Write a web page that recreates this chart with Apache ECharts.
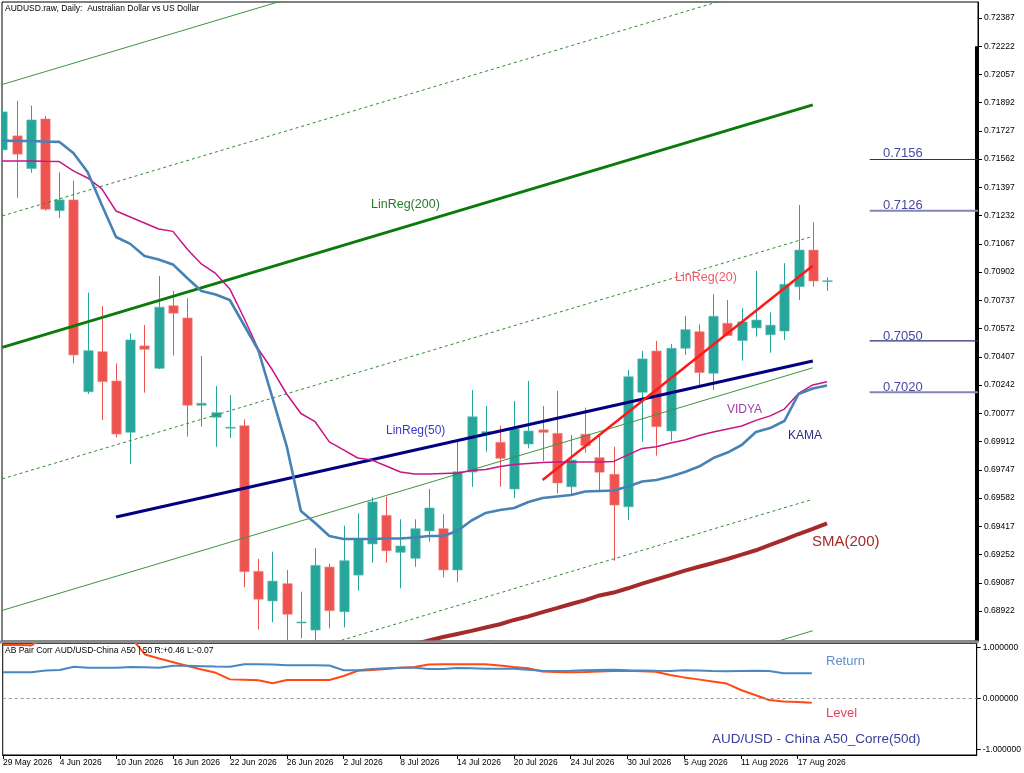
<!DOCTYPE html>
<html><head><meta charset="utf-8">
<script src="https://cdn.jsdelivr.net/npm/echarts@6/dist/echarts.min.js"></script>
<style>html,body{margin:0;padding:0;background:#fff}#c{width:1024px;height:773px}</style>
</head><body><div id="c"></div>
<script>
const dates = ['29 May 2026','1 Jun 2026','2 Jun 2026','3 Jun 2026','4 Jun 2026','5 Jun 2026','8 Jun 2026','9 Jun 2026','10 Jun 2026','11 Jun 2026','12 Jun 2026','15 Jun 2026','16 Jun 2026','17 Jun 2026','18 Jun 2026','19 Jun 2026','22 Jun 2026','23 Jun 2026','24 Jun 2026','25 Jun 2026','26 Jun 2026','29 Jun 2026','30 Jun 2026','1 Jul 2026','2 Jul 2026','3 Jul 2026','6 Jul 2026','7 Jul 2026','8 Jul 2026','9 Jul 2026','10 Jul 2026','13 Jul 2026','14 Jul 2026','15 Jul 2026','16 Jul 2026','17 Jul 2026','20 Jul 2026','21 Jul 2026','22 Jul 2026','23 Jul 2026','24 Jul 2026','27 Jul 2026','28 Jul 2026','29 Jul 2026','30 Jul 2026','31 Jul 2026','3 Aug 2026','4 Aug 2026','5 Aug 2026','6 Aug 2026','7 Aug 2026','10 Aug 2026','11 Aug 2026','12 Aug 2026','13 Aug 2026','14 Aug 2026','17 Aug 2026','18 Aug 2026','19 Aug 2026'];
const opens  = [0.71616,0.71698,0.71507,0.71797,0.71261,0.71324,0.70203,0.70437,0.70266,0.69966,0.70471,0.70340,0.70706,0.70634,0.70124,0.70054,0.69992,0.70005,0.69154,0.68981,0.69082,0.68854,0.68811,0.69179,0.68918,0.69132,0.69314,0.69481,0.69265,0.69230,0.69390,0.69403,0.69162,0.69734,0.69956,0.69908,0.69635,0.69898,0.69981,0.69960,0.69648,0.69955,0.69818,0.69721,0.69531,0.70200,0.70441,0.69974,0.70457,0.70554,0.70311,0.70603,0.70502,0.70576,0.70536,0.70558,0.70817,0.71031,0.70849];
const closes = [0.71838,0.71591,0.71791,0.71269,0.71324,0.70418,0.70443,0.70262,0.69956,0.70506,0.70451,0.70697,0.70662,0.70124,0.70136,0.70081,0.69996,0.69152,0.68991,0.69097,0.68903,0.68858,0.69189,0.68924,0.69216,0.69341,0.69559,0.69274,0.69302,0.69403,0.69524,0.69162,0.69736,0.70057,0.69970,0.69814,0.69986,0.69974,0.69966,0.69670,0.69804,0.69888,0.69733,0.69541,0.70291,0.70395,0.69999,0.70457,0.70566,0.70315,0.70644,0.70531,0.70611,0.70622,0.70592,0.70831,0.71031,0.70850,0.70852];
const lows   = [0.71604,0.71337,0.71483,0.71261,0.71217,0.70369,0.70190,0.70038,0.69937,0.69781,0.70198,0.70335,0.70414,0.69941,0.69999,0.69882,0.69933,0.69061,0.68815,0.68856,0.68740,0.68763,0.68740,0.68821,0.68827,0.69041,0.69204,0.69204,0.69055,0.69181,0.69327,0.69119,0.69090,0.69648,0.69853,0.69648,0.69581,0.69873,0.69799,0.69610,0.69606,0.69847,0.69616,0.69216,0.69454,0.69911,0.69830,0.69917,0.70418,0.70237,0.70213,0.70528,0.70385,0.70525,0.70431,0.70506,0.70739,0.70817,0.70792];
const highs  = [0.71849,0.71902,0.71875,0.71814,0.71485,0.71436,0.70782,0.70704,0.70369,0.70545,0.70593,0.70880,0.70792,0.70749,0.70412,0.70237,0.70184,0.70042,0.69226,0.69269,0.69162,0.69035,0.69290,0.69199,0.69421,0.69493,0.69586,0.69590,0.69458,0.69458,0.69635,0.69487,0.69921,0.70213,0.70120,0.70005,0.70149,0.70266,0.70120,0.70208,0.69950,0.70110,0.69945,0.69882,0.70330,0.70441,0.70500,0.70482,0.70646,0.70597,0.70773,0.70739,0.70691,0.70909,0.70667,0.70954,0.71294,0.71193,0.70872];
const kama   = [0.71670,0.71668,0.71668,0.71665,0.71663,0.71598,0.71487,0.71294,0.71107,0.71067,0.70996,0.70976,0.70947,0.70868,0.70792,0.70771,0.70739,0.70593,0.70447,0.70167,0.69886,0.69506,0.69436,0.69360,0.69343,0.69343,0.69343,0.69346,0.69346,0.69352,0.69360,0.69360,0.69390,0.69451,0.69495,0.69512,0.69524,0.69559,0.69582,0.69591,0.69600,0.69620,0.69623,0.69626,0.69650,0.69679,0.69688,0.69708,0.69734,0.69766,0.69816,0.69848,0.69892,0.69968,0.69991,0.70032,0.70190,0.70222,0.70240];
const vidya  = [0.71551,0.71551,0.71551,0.71549,0.71548,0.71493,0.71452,0.71388,0.71259,0.71224,0.71189,0.71154,0.71140,0.71037,0.70950,0.70894,0.70804,0.70634,0.70453,0.70330,0.70190,0.70076,0.70028,0.69910,0.69863,0.69816,0.69804,0.69769,0.69734,0.69723,0.69723,0.69726,0.69728,0.69743,0.69749,0.69766,0.69778,0.69784,0.69790,0.69793,0.69793,0.69793,0.69793,0.69796,0.69834,0.69872,0.69882,0.69904,0.69921,0.69948,0.69968,0.69986,0.70003,0.70036,0.70062,0.70102,0.70193,0.70243,0.70262];
const sma200 = [null,null,null,null,null,null,null,null,null,null,null,null,null,null,null,null,null,null,null,null,null,null,null,null,null,null,null,null,0.68706,0.68729,0.68750,0.68770,0.68788,0.68806,0.68826,0.68845,0.68870,0.68891,0.68916,0.68939,0.68963,0.68986,0.69013,0.69030,0.69055,0.69082,0.69107,0.69132,0.69158,0.69181,0.69203,0.69226,0.69252,0.69277,0.69308,0.69339,0.69372,0.69402,0.69434];
// regression lines: [startBar, startValue, endBar, endValue]
const linReg20 = [38, 0.69688, 57, 0.70939];
const linReg50 = [8, 0.69471, 57, 0.70383];
const linReg200Center = [0, 0.70462, 57, 0.71879];
const linReg200Up2 = [0, 0.71998, 57, 0.73415];
const linReg200Up1 = [0, 0.71230, 57, 0.72647];
const linReg200Dn1 = [0, 0.69694, 57, 0.71111];
const linReg200Dn2 = [0, 0.68926, 57, 0.70343];
const linReg200Dn3 = [0, 0.68158, 57, 0.69575];
const linReg200Dn4 = [0, 0.67390, 57, 0.68807];
const levelPrices = [0.7156, 0.7126, 0.7050, 0.7020];
const levelLabels = ['0.7156', '0.7126', '0.7050', '0.7020'];
const corrReturn = [0.510,0.510,0.510,0.545,0.555,0.620,0.600,0.600,0.600,0.614,0.608,0.600,0.640,0.637,0.630,0.623,0.620,0.667,0.667,0.663,0.647,0.647,0.647,0.643,0.549,0.549,0.575,0.588,0.600,0.600,0.575,0.575,0.596,0.590,0.580,0.580,0.580,0.561,0.541,0.535,0.541,0.549,0.555,0.561,0.549,0.545,0.539,0.535,0.549,0.543,0.535,0.529,0.535,0.541,0.535,0.490,0.490,0.490];
const corrLevel = [1.045,1.045,1.040,1.200,1.250,1.250,1.250,1.220,1.200,1.200,0.860,0.780,0.708,0.633,0.565,0.500,0.371,0.365,0.353,0.294,0.359,0.359,0.359,0.359,0.437,0.539,0.555,0.575,0.600,0.614,0.663,0.667,0.667,0.667,0.667,0.641,0.614,0.590,0.525,0.516,0.510,0.516,0.525,0.535,0.541,0.529,0.520,0.457,0.410,0.371,0.331,0.288,0.163,0.065,-0.033,-0.063,-0.073,-0.086];
const priceTicks = [0.68922,0.69087,0.69252,0.69417,0.69582,0.69747,0.69912,0.70077,0.70242,0.70407,0.70572,0.70737,0.70902,0.71067,0.71232,0.71397,0.71562,0.71727,0.71892,0.72057,0.72222,0.72387];
const corrTicks = [-1, 0, 1];
const xTickIdx = [0,4,8,12,16,20,24,28,32,36,40,44,48,52,56];

const FONT = 'Liberation Sans';
const X_MIN = -0.02, X_MAX = 68.62;
const chart = echarts.init(document.getElementById('c'), null, {renderer: 'canvas'});

function seg(a) { return [[a[0], a[1]], [a[2], a[3]]]; }
function lineSeries(name, data, color, width, type, z) {
  return { name, type: 'line', xAxisIndex: 0, yAxisIndex: 0, data, showSymbol: false, symbol: 'none',
    lineStyle: { color, width, type: type || 'solid' }, clip: true, z: z || 3, silent: true, animation: false };
}
const candleData = dates.map((d, i) => [i, opens[i], closes[i], lows[i], highs[i]]);

function renderCandle(params, api) {
  const i = api.value(0), o = api.value(1), c = api.value(2), l = api.value(3), h = api.value(4);
  const pO = api.coord([i, o]), pC = api.coord([i, c]), pL = api.coord([i, l]), pH = api.coord([i, h]);
  const w = api.size([1, 0])[0] * 0.66;
  const up = c >= o;
  const col = up ? '#26a69a' : '#ef5350';
  const top = Math.min(pO[1], pC[1]);
  const hh = Math.max(Math.abs(pO[1] - pC[1]), 1);
  const x = Math.round(pO[0]) + 0.5;
  return { type: 'group', children: [
    { type: 'line', shape: { x1: x, y1: pL[1], x2: x, y2: pH[1] }, style: { stroke: col, lineWidth: 1 } },
    { type: 'rect', shape: { x: x - w / 2, y: top, width: w, height: hh }, style: { fill: col, stroke: up ? '#5cbcb3' : '#f48a88', lineWidth: 0.6 } }
  ]};
}

const series = [
  { type: 'custom', name: 'AUDUSD', xAxisIndex: 0, yAxisIndex: 0, data: candleData, renderItem: renderCandle,
    encode: { x: 0, y: [1, 2, 3, 4] }, clip: true, z: 2, silent: true, animation: false },
  lineSeries('LinReg200 +2', seg(linReg200Up2), '#3c963c', 1, 'solid'),
  lineSeries('LinReg200 +1', seg(linReg200Up1), '#2e8b2e', 1, [3, 3]),
  lineSeries('LinReg200', seg(linReg200Center), '#0a7a0a', 3, 'solid', 4),
  lineSeries('LinReg200 -1', seg(linReg200Dn1), '#2e8b2e', 1, [3, 3]),
  lineSeries('LinReg200 -2', seg(linReg200Dn2), '#3c963c', 1, 'solid'),
  lineSeries('LinReg200 -3', seg(linReg200Dn3), '#2e8b2e', 1, [3, 3]),
  lineSeries('LinReg200 -4', seg(linReg200Dn4), '#3c963c', 1, 'solid'),
  lineSeries('SMA(200)', sma200.map((v, i) => [i, v]).filter(p => p[1] !== null), '#a52a2a', 4, 'solid', 4),
  lineSeries('LinReg50', seg(linReg50), '#000080', 3, 'solid', 5),
  lineSeries('LinReg20', seg(linReg20), '#ff1a1a', 2.5, 'solid', 5),
  lineSeries('VIDYA', vidya.map((v, i) => [i, v]), '#c71585', 1.5, 'solid', 5),
  Object.assign(lineSeries('KAMA', kama.map((v, i) => [i, v]), '#4682b4', 2.6, 'solid', 6), {
    markLine: { symbol: 'none', silent: true, animation: false, label: { show: false },
      lineStyle: { color: '#000', width: 3, type: 'solid' },
      data: [[{ coord: [68.5, 0.72222] }, { coord: [68.5, 0.68748] }]] }
  })
];
levelPrices.forEach((p, k) => {
  series.push(lineSeries('Level ' + levelLabels[k], [[61, p], [X_MAX, p]], (k % 2 === 0) ? '#2c2c7c' : '#8484b8', (k % 2 === 0) ? 1.2 : 2, 'solid', 5));
});
series.push({
  name: 'Return', type: 'line', xAxisIndex: 1, yAxisIndex: 1, data: corrReturn.map((v, i) => [i, v]),
  symbol: 'none', lineStyle: { color: '#4a86c0', width: 2 }, clip: true, silent: true, animation: false, z: 4,
  markLine: { symbol: 'none', silent: true, animation: false, label: { show: false },
    lineStyle: { color: '#9a9a9a', width: 1, type: [3, 3] }, data: [{ yAxis: 0 }] }
});
series.push({
  name: 'Level', type: 'line', xAxisIndex: 1, yAxisIndex: 1, data: corrLevel.map((v, i) => [i, v]),
  symbol: 'none', lineStyle: { color: '#ff4a14', width: 2 }, clip: true, silent: true, animation: false, z: 3
});

function txt(text, x, y, size, color, weight) {
  return { type: 'text', x, y, silent: true, z: 100,
    style: { text, fontSize: size, fontFamily: FONT, fill: color, fontWeight: weight || 'normal', align: 'left', verticalAlign: 'middle' } };
}

const option = {
  backgroundColor: '#ffffff',
  animation: false,
  grid: [
    { left: 2, right: 46, top: 2, height: 639, show: true, borderColor: '#000', borderWidth: 1, backgroundColor: 'transparent' },
    { left: 2, right: 46, top: 643.5, height: 111.5, show: true, borderColor: '#000', borderWidth: 1, backgroundColor: 'transparent' }
  ],
  xAxis: [
    { gridIndex: 0, type: 'value', min: X_MIN, max: X_MAX, show: false },
    { gridIndex: 1, type: 'value', min: X_MIN, max: X_MAX,
      axisLine: { show: true, onZero: false, lineStyle: { color: '#000', width: 1 } },
      axisTick: { show: true, customValues: xTickIdx, length: 4, inside: false, lineStyle: { color: '#000' } },
      axisLabel: { show: true, customValues: xTickIdx, formatter: v => dates[Math.round(v)] || '', align: 'left',
        margin: 3, fontSize: 8.5, fontFamily: FONT, color: '#000' },
      splitLine: { show: false } }
  ],
  yAxis: [
    { gridIndex: 0, type: 'value', position: 'right', min: 0.68747, max: 0.72480, scale: true,
      axisLine: { show: true, onZero: false, lineStyle: { color: '#000', width: 1 } },
      axisTick: { show: true, customValues: priceTicks, length: 4, lineStyle: { color: '#000' } },
      axisLabel: { show: true, customValues: priceTicks, formatter: v => v.toFixed(5), margin: 6, fontSize: 8.5, fontFamily: FONT, color: '#000' },
      splitLine: { show: false } },
    { gridIndex: 1, type: 'value', position: 'right', min: -1.112, max: 1.0745,
      axisLine: { show: true, onZero: false, lineStyle: { color: '#000', width: 1 } },
      axisTick: { show: true, customValues: corrTicks, length: 4, lineStyle: { color: '#000' } },
      axisLabel: { show: true, customValues: corrTicks, formatter: v => v.toFixed(6), margin: 6, fontSize: 8.5, fontFamily: FONT, color: '#000' },
      splitLine: { show: false } }
  ],
  series,
  graphic: [
    { type: 'rect', shape: { x: 0, y: 640.5, width: 978.5, height: 3 }, style: { fill: '#8c8c8c' }, silent: true, z: 90 },
    txt('AUDUSD.raw, Daily:  Australian Dollar vs US Dollar', 5, 8.5, 8.5, '#000'),
    txt('AB Pair Corr AUD/USD-China A50 | 50 R:+0.46 L:-0.07', 5, 651, 8.5, '#000'),
    txt('LinReg(200)', 371, 205, 12.5, '#2a7a2a'),
    txt('LinReg(50)', 386, 430.5, 12, '#3a3acc'),
    txt('LinReg(20)', 675, 278, 12.5, '#f05868'),
    txt('VIDYA', 727, 410, 12, '#a23ca8'),
    txt('KAMA', 788, 436, 12, '#2c2c84'),
    txt('SMA(200)', 812, 542, 15, '#a52a2a'),
    txt(levelLabels[0], 883, 153, 13, '#4848a0'),
    txt(levelLabels[1], 883, 205, 13, '#4848a0'),
    txt(levelLabels[2], 883, 336, 13, '#4848a0'),
    txt(levelLabels[3], 883, 387.5, 13, '#4848a0'),
    txt('Return', 826, 661, 13, '#5b8fcf'),
    txt('Level', 826, 713.5, 13, '#e8405a'),
    txt('AUD/USD - China A50_Corre(50d)', 712, 739, 13.5, '#3c3c9c')
  ]
};
chart.setOption(option);
</script></body></html>
